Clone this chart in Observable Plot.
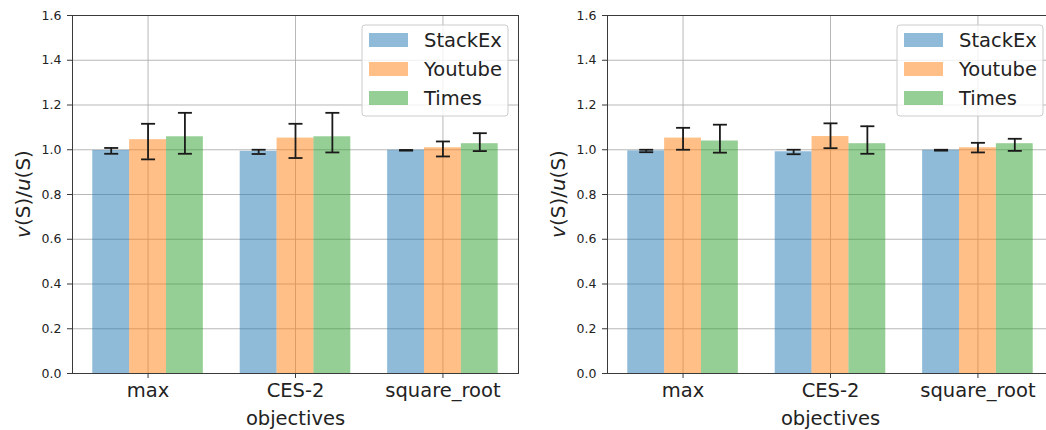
<!DOCTYPE html>
<html>
<head>
<meta charset="utf-8">
<script src="https://cdn.jsdelivr.net/npm/d3@7"></script>
<script src="https://cdn.jsdelivr.net/npm/@observablehq/plot@0.6"></script>
<style>
  html, body { margin: 0; padding: 0; background: #fff; overflow: hidden; }
  #wrap { position: relative; width: 1046px; height: 430px; overflow: hidden; }
  .panel { position: absolute; top: 0; width: 530px; height: 430px; }
  .panel svg { max-width: none !important; width: 530px; height: 430px; }
</style>
</head>
<body>
<div id="wrap">
  <div class="panel" id="p1" style="left:0px"></div>
  <div class="panel" id="p2" style="left:530px"></div>
</div>
<script>
// ---- data ----
const categories = ["max", "CES-2", "square_root"];
const series = ["StackEx", "Youtube", "Times"];
const seriesColors = ["#1f77b4", "#ff7f0e", "#2ca02c"];
const yTicks = [0, 0.2, 0.4, 0.6, 0.8, 1.0, 1.2, 1.4, 1.6];
const xLabel = "objectives";

// left panel: rows = series (StackEx, Youtube, Times), columns = categories
const leftMean = [[0.997, 0.993, 0.998], [1.045, 1.052, 1.009], [1.058, 1.058, 1.027]];
const leftLow  = [[0.982, 0.981, 0.996], [0.957, 0.963, 0.970], [0.982, 0.988, 0.994]];
const leftHigh = [[1.008, 1.000, 0.999], [1.116, 1.116, 1.037], [1.165, 1.165, 1.074]];

// right panel
const rightMean = [[0.995, 0.991, 0.998], [1.052, 1.059, 1.009], [1.039, 1.027, 1.027]];
const rightLow  = [[0.989, 0.980, 0.996], [1.000, 1.007, 0.988], [0.987, 0.982, 0.995]];
const rightHigh = [[1.000, 1.000, 1.000], [1.098, 1.118, 1.031], [1.112, 1.105, 1.049]];

// ---- drawing ----
const barWidth = 0.25;
const cap = {draw(ctx, size) { const w = Math.sqrt(size / Math.PI); ctx.moveTo(-w, 0); ctx.lineTo(w, 0); }};

function makePanel(means, lows, highs, o) {
  const rows = [];
  series.forEach((s, j) => categories.forEach((c, i) => {
    rows.push({series: s, x: i + (j - 1) * barWidth, value: means[j][i], lo: lows[j][i], hi: highs[j][i]});
  }));
  const idx = categories.map((c, i) => i);
  const chart = Plot.plot({
    width: o.width, height: 430,
    marginLeft: o.ml, marginRight: o.mr, marginTop: 15, marginBottom: 57,
    style: {fontFamily: "DejaVu Sans", background: "transparent", color: "#222", overflow: "visible"},
    x: {domain: [-0.5125, 2.5125]},
    y: {domain: [0, 1.6]},
    color: {domain: series, range: seriesColors},
    marks: [
      Plot.gridX(idx, {stroke: "#b0b0b0", strokeOpacity: 0.9, strokeWidth: 1}),
      Plot.gridY(yTicks, {stroke: "#b0b0b0", strokeOpacity: 0.9, strokeWidth: 1}),
      Plot.rect(rows, {x1: d => d.x - barWidth / 2, x2: d => d.x + barWidth / 2, y1: 0, y2: "value", fill: "series", fillOpacity: 0.5}),
      Plot.ruleX(rows, {x: "x", y1: "lo", y2: "hi", stroke: "#1a1a1a", strokeWidth: 1.8}),
      Plot.dot(rows, {x: "x", y: "lo", symbol: cap, r: 7, stroke: "#1a1a1a", strokeWidth: 1.8, fill: "none"}),
      Plot.dot(rows, {x: "x", y: "hi", symbol: cap, r: 7, stroke: "#1a1a1a", strokeWidth: 1.8, fill: "none"}),
      Plot.frame({stroke: "#3a3a3a", strokeWidth: 1}),
      Plot.axisX(idx, {tickFormat: i => categories[i], tickSize: 5, tickPadding: 5, fontSize: 19.5, label: null, stroke: "#3a3a3a"}),
      Plot.axisY(yTicks, {tickFormat: d => d.toFixed(1), tickSize: 5, tickPadding: 6, fontSize: 12.5, label: null, stroke: "#3a3a3a"}),
      Plot.text([xLabel], {text: d => d, frameAnchor: "bottom", dy: 45, fontSize: 19.5, lineAnchor: "middle", fill: "#222"})
    ]
  });

  const svg = d3.select(chart);
  // y-axis label with italic v and u
  const yl = svg.append("text")
    .attr("transform", `translate(${o.ml - 49},194) rotate(-90)`)
    .attr("text-anchor", "middle").attr("dy", "0.35em")
    .attr("font-size", 20).attr("fill", "#222");
  yl.append("tspan").attr("font-style", "italic").text("v");
  yl.append("tspan").text("(S)/");
  yl.append("tspan").attr("font-style", "italic").text("u");
  yl.append("tspan").text("(S)");

  // legend
  const boxW = 146, boxH = 91, top = 25;
  const boxX = o.width - o.mr - 10 - boxW;
  const lg = svg.append("g").attr("transform", `translate(${boxX},${top})`);
  lg.append("rect").attr("width", boxW).attr("height", boxH).attr("rx", 3)
    .attr("fill", "white").attr("fill-opacity", 0.8).attr("stroke", "#cccccc");
  series.forEach((s, j) => {
    const cy = 15 + j * 29;
    lg.append("rect").attr("x", 7).attr("y", cy - 7).attr("width", 39).attr("height", 14)
      .attr("fill", seriesColors[j]).attr("fill-opacity", 0.5);
    lg.append("text").attr("x", 62).attr("y", cy).attr("dy", "0.36em").attr("text-anchor", "start")
      .attr("font-size", 19.5).attr("fill", "#222").text(s);
  });
  return chart;
}

document.getElementById("p1").append(makePanel(leftMean, leftLow, leftHigh, {width: 530, ml: 72, mr: 12}));
document.getElementById("p2").append(makePanel(rightMean, rightLow, rightHigh, {width: 530, ml: 77, mr: 7}));
</script>
</body>
</html>
